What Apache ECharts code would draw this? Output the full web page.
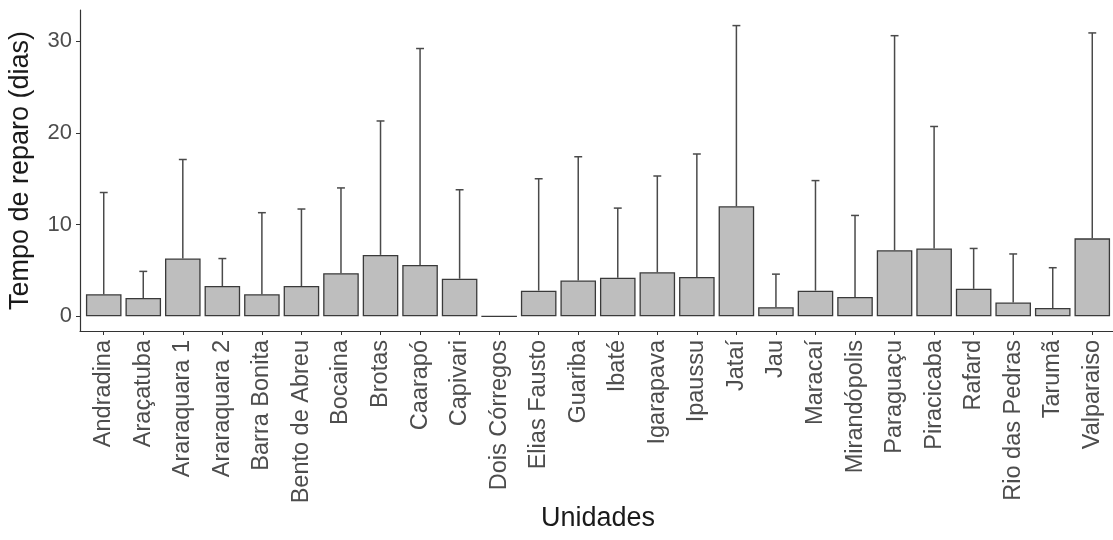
<!DOCTYPE html>
<html lang="pt">
<head>
<meta charset="UTF-8">
<title>Tempo de reparo por unidade</title>
<script src="https://cdn.jsdelivr.net/npm/echarts@6.0.0/dist/echarts.min.js"></script>
<style>
    html, body { margin: 0; padding: 0; background: #fff; }
    #chart { width: 1113px; height: 540px; }
</style>
</head>
<body>
<div id="chart"></div>
<script>
    // dados
    const unidades = ['Andradina', 'Araçatuba', 'Araraquara 1', 'Araraquara 2', 'Barra Bonita',
        'Bento de Abreu', 'Bocaina', 'Brotas', 'Caarapó', 'Capivari', 'Dois Córregos',
        'Elias Fausto', 'Guariba', 'Ibaté', 'Igarapava', 'Ipaussu', 'Jataí', 'Jau', 'Maracaí',
        'Mirandópolis', 'Paraguaçu', 'Piracicaba', 'Rafard', 'Rio das Pedras', 'Tarumã', 'Valparaiso'];
    const medias = [2.4, 2.0, 6.3, 3.3, 2.4, 3.3, 4.7, 6.7, 5.6, 4.1, 0,
        2.8, 3.9, 4.2, 4.8, 4.3, 12.0, 1.0, 2.8, 2.1, 7.2, 7.4, 3.0, 1.5, 0.9, 8.5];
    const limitesSup = [13.5, 4.9, 17.1, 6.3, 11.3, 11.7, 14.0, 21.3, 29.2, 13.8, 0,
        15.0, 17.4, 11.8, 15.3, 17.7, 31.7, 4.6, 14.8, 11.0, 30.6, 20.7, 7.4, 6.8, 5.3, 30.9];
    const ticksY = [0, 10, 20, 30];
    const posicoes = unidades.map((u, i) => i);

    const fonte = '"Liberation Sans", Arial, sans-serif';
    const chart = echarts.init(document.getElementById('chart'));

    const option = {
        animation: false,
        grid: { left: 80, top: 10, width: 1036, height: 321, containLabel: false, outerBoundsMode: 'none' },
        xAxis: {
            type: 'value',
            min: -0.6,
            max: 25.6,
            name: 'Unidades',
            nameLocation: 'middle',
            nameGap: 174,
            nameMoveOverlap: false,
            nameTextStyle: { fontFamily: fonte, fontSize: 27, color: '#1a1a1a' },
            axisLine: { show: true, onZero: false, lineStyle: { color: '#333', width: 1.2 } },
            axisTick: { show: true, customValues: posicoes, length: 4, lineStyle: { color: '#333' } },
            axisLabel: {
                customValues: posicoes,
                rotate: 90,
                margin: 9,
                fontFamily: fonte,
                fontSize: 23.5,
                color: '#4d4d4d',
                formatter: v => unidades[Math.round(v)]
            },
            splitLine: { show: false }
        },
        yAxis: {
            type: 'value',
            min: -1.6,
            max: 33.4,
            name: 'Tempo de reparo (dias)',
            nameLocation: 'middle',
            nameGap: 46,
            nameMoveOverlap: false,
            nameTextStyle: { fontFamily: fonte, fontSize: 27, color: '#1a1a1a' },
            axisLine: { show: true, onZero: false, lineStyle: { color: '#333', width: 1.2 } },
            axisTick: { show: true, customValues: ticksY, length: 4, lineStyle: { color: '#333' } },
            axisLabel: {
                customValues: ticksY,
                margin: 8,
                fontFamily: fonte,
                fontSize: 22,
                color: '#4d4d4d'
            },
            splitLine: { show: false }
        },
        series: [
            {
                type: 'bar',
                data: medias.map((v, i) => [i, v]),
                barWidth: '90%',
                itemStyle: { color: '#bebebe', borderColor: '#3a3a3a', borderWidth: 1.3 },
                z: 2
            },
            {
                type: 'custom',
                data: medias.map((v, i) => [i, v, limitesSup[i]]),
                z: 3,
                renderItem: function (params, api) {
                    const i = api.value(0);
                    if (api.value(2) <= api.value(1)) return null;
                    const base = api.coord([i, api.value(1)]);
                    const topo = api.coord([i, api.value(2)]);
                    const meia = api.size([0.1, 0])[0];
                    const estilo = { stroke: '#4a4a4a', lineWidth: 1.5 };
                    return {
                        type: 'group',
                        children: [
                            { type: 'line', shape: { x1: base[0], y1: base[1], x2: topo[0], y2: topo[1] }, style: estilo },
                            { type: 'line', shape: { x1: topo[0] - meia, y1: topo[1], x2: topo[0] + meia, y2: topo[1] }, style: estilo }
                        ]
                    };
                }
            }
        ]
    };

    chart.setOption(option);
</script>
</body>
</html>
